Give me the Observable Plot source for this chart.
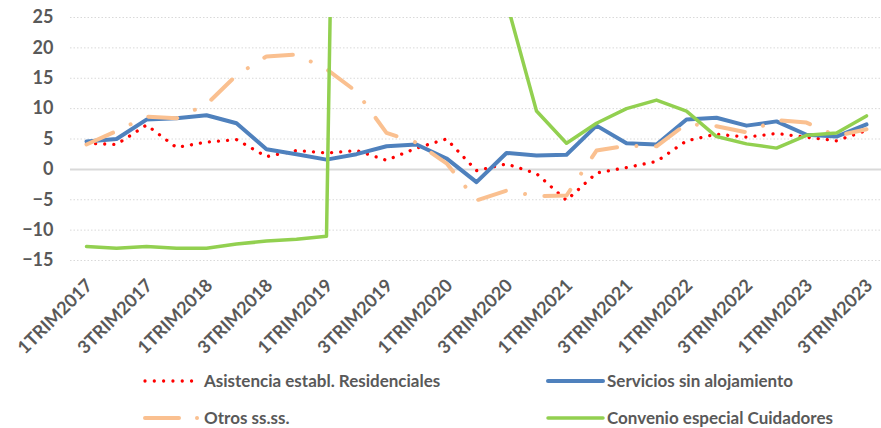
<!DOCTYPE html>
<html><head><meta charset="utf-8">
<script src="https://cdn.jsdelivr.net/npm/d3@7"></script>
<script src="https://cdn.jsdelivr.net/npm/@observablehq/plot@0.6"></script>
<style>
body{margin:0;background:#fff;}
#wrap{position:relative;width:881px;height:428px;overflow:hidden;font-family:Lato,'Liberation Sans',sans-serif;}
.legtxt{position:absolute;font-size:17px;font-weight:bold;color:#595959;white-space:nowrap;line-height:17px;transform:translateY(-55%);}
.legsym{position:absolute;}
</style></head><body><div id="wrap"><div id="chart"></div></div>
<script>
const quarters = ["1TRIM2017","2TRIM2017","3TRIM2017","4TRIM2017","1TRIM2018","2TRIM2018","3TRIM2018","4TRIM2018","1TRIM2019","2TRIM2019","3TRIM2019","4TRIM2019","1TRIM2020","2TRIM2020","3TRIM2020","4TRIM2020","1TRIM2021","2TRIM2021","3TRIM2021","4TRIM2021","1TRIM2022","2TRIM2022","3TRIM2022","4TRIM2022","1TRIM2023","2TRIM2023","3TRIM2023"];
const tickLabels = ["1TRIM2017","3TRIM2017","1TRIM2018","3TRIM2018","1TRIM2019","3TRIM2019","1TRIM2020","3TRIM2020","1TRIM2021","3TRIM2021","1TRIM2022","3TRIM2022","1TRIM2023","3TRIM2023"];
const yTicks = [-15,-10,-5,0,5,10,15,20,25];

const asistencia = [4.3,4.1,7.3,3.6,4.5,4.9,2.1,3.1,2.7,3.1,1.5,3.5,5.0,-0.2,0.9,-0.7,-5.1,-0.6,0.3,1.3,4.7,5.8,5.3,5.9,5.3,4.7,6.4];
const servicios  = [4.6,5.0,8.2,8.4,8.9,7.6,3.3,2.5,1.6,2.5,3.8,4.1,1.8,-2.1,2.7,2.3,2.4,7.2,4.3,4.1,8.2,8.5,7.2,7.9,5.7,5.4,7.4];
const otros      = [4.1,6.3,8.7,8.4,10.7,15.5,18.6,18.9,16.5,12.8,6.0,4.4,1.0,-5.1,-3.5,-4.4,-4.3,3.1,3.9,3.8,7.5,7.1,6.1,8.1,7.7,5.5,6.6];
const cuidadores = [-12.7,-13.0,-12.7,-13.0,-13.0,-12.3,-11.8,-11.5,-11.0,290,300,310,320,300,27.6,9.6,4.3,7.6,10.0,11.4,9.6,5.4,4.2,3.5,5.6,6.0,8.8];

const seriesNames = ["Asistencia establ. Residenciales","Servicios sin alojamiento","Otros ss.ss.","Convenio especial Cuidadores"];
const seriesValues = [asistencia, servicios, otros, cuidadores];
const styles = [
  {stroke:"#FF0000", strokeWidth:3.3, dash:"0.01,9.1"},
  {stroke:"#4F81BD", strokeWidth:4, dash:null},
  {stroke:"#FAC090", strokeWidth:4, dash:"29,19.5,0.01,19.5"},
  {stroke:"#92D050", strokeWidth:3.5, dash:null}
];

const tables = seriesValues.map((vals, k) => vals.map((v, i) => ({q: quarters[i], v, s: seriesNames[k]})));

const font = "Lato,'Liberation Sans',sans-serif";

const chart = Plot.plot({
  width: 881,
  height: 362,
  marginLeft: 70,
  marginRight: 0,
  marginTop: 17,
  marginBottom: 102,
  style: {fontFamily: font, fontSize: "18px", fontWeight: "bold", color: "#595959", background: "#fff", overflow: "visible"},
  x: {type: "point", domain: quarters, padding: 0.5},
  y: {domain: [-15, 25]},
  marks: [
    Plot.ruleY(yTicks.filter(d => d !== 0), {stroke: "#D9D9D9", strokeWidth: 1, strokeDasharray: "1.5,2"}),
    Plot.ruleY([0], {stroke: "#D9D9D9", strokeWidth: 2}),
    Plot.axisY({ticks: yTicks, tickSize: 0, tickPadding: 17, label: null, fontSize: 18, fontWeight: "bold"}),
    Plot.axisX({ticks: tickLabels, tickSize: 0, tickPadding: 22, tickRotate: -45, label: null, fontSize: 18, fontWeight: "bold", dx: 3}),
    ...tables.map((t, k) => Plot.lineY(t, {
      x: "q", y: "v", stroke: styles[k].stroke, strokeWidth: styles[k].strokeWidth,
      strokeDasharray: styles[k].dash, strokeLinecap: "round", strokeLinejoin: "round", clip: true
    }))
  ]
});
document.getElementById("chart").appendChild(chart);

// legend (below the SVG area, HTML)
const legendLayout = [
  {sx1: 145, sx2: 192, ty: 381, tx: 204},
  {sx1: 548, sx2: 603, ty: 381, tx: 607},
  {sx1: 145, sx2: 198, ty: 418, tx: 204},
  {sx1: 548, sx2: 603, ty: 418, tx: 607}
];
const wrap = document.getElementById("wrap");
seriesNames.forEach((name, k) => {
  const L = legendLayout[k], st = styles[k];
  const ns = "http://www.w3.org/2000/svg";
  const svg = document.createElementNS(ns, "svg");
  const w = L.sx2 - L.sx1 + 8;
  svg.setAttribute("width", w); svg.setAttribute("height", 12);
  svg.setAttribute("class", "legsym");
  svg.style.left = (L.sx1 - 4) + "px"; svg.style.top = (L.ty - 6) + "px";
  const line = document.createElementNS(ns, "line");
  line.setAttribute("x1", 4); line.setAttribute("x2", w - 4);
  line.setAttribute("y1", 6); line.setAttribute("y2", 6);
  line.setAttribute("stroke", st.stroke); line.setAttribute("stroke-width", st.strokeWidth);
  line.setAttribute("stroke-linecap", "round");
  if (k === 0) line.setAttribute("stroke-dasharray", "0.01,9.3");
  if (k === 2) line.setAttribute("stroke-dasharray", "34,18,0.01,40");
  svg.appendChild(line);
  wrap.appendChild(svg);
  const t = document.createElement("div");
  t.className = "legtxt";
  t.style.left = L.tx + "px"; t.style.top = L.ty + "px";
  t.textContent = name;
  wrap.appendChild(t);
});
</script></body></html>
